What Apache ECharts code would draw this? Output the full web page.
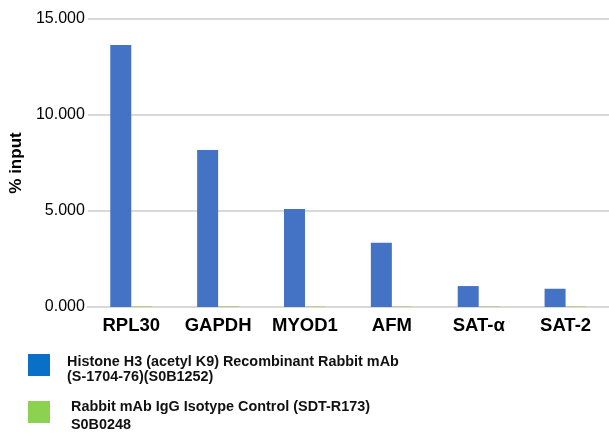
<!DOCTYPE html>
<html>
<head>
<meta charset="utf-8">
<script src="https://cdn.jsdelivr.net/npm/echarts@6/dist/echarts.min.js"></script>
<style>
  html, body { margin: 0; padding: 0; background: #fff; }
  #chart { width: 609px; height: 446px; }
</style>
</head>
<body>
<div id="chart"></div>
<script>
var categories = ['RPL30', 'GAPDH', 'MYOD1', 'AFM', 'SAT-α', 'SAT-2'];
var histoneValues = [13.65, 8.18, 5.10, 3.35, 1.09, 0.95];
var controlValues = [0.03, 0.03, 0.02, 0.02, 0.02, 0.02];
var yTicks = [0, 5, 10, 15];
var seriesNames = [
    'Histone H3 (acetyl K9) Recombinant Rabbit mAb\n(S-1704-76)(S0B1252)',
    ' Rabbit mAb IgG Isotype Control (SDT-R173)\n S0B0248'
];

// legend text; an empty spacer line on top pushes the text below the square's centre
function legendText(lineHeight, spacer) {
    return {
        fontFamily: 'Liberation Sans',
        fontWeight: 'bold',
        fontSize: 14.4,
        color: '#111',
        lineHeight: lineHeight,
        padding: [0, 0, 0, 12],
        rich: {
            s: { fontSize: 1, height: spacer, lineHeight: spacer }
        }
    };
}
function legendFormatter(name) {
    return '{s| }\n' + name;
}

var chart = echarts.init(document.getElementById('chart'));
chart.setOption({
    animation: false,
    grid: {
        left: 84,
        right: -3,
        top: 19,
        height: 288
    },
    legend: [{
        orient: 'vertical',
        left: 28,
        top: 345,
        padding: 0,
        itemWidth: 22,
        itemHeight: 22,
        icon: 'rect',
        formatter: legendFormatter,
        textStyle: legendText(15, 10),
        data: [{ name: seriesNames[0], itemStyle: { color: '#0a6fc6' } }]
    }, {
        orient: 'vertical',
        left: 28,
        top: 390,
        padding: 0,
        itemWidth: 22,
        itemHeight: 22,
        icon: 'rect',
        formatter: legendFormatter,
        textStyle: legendText(18, 8),
        data: [{ name: seriesNames[1], itemStyle: { color: '#8cd150' } }]
    }],
    xAxis: {
        type: 'category',
        data: categories,
        axisTick: { show: false },
        axisLine: { lineStyle: { color: '#d9d9d9', width: 2 } },
        axisLabel: {
            interval: 0,
            fontFamily: 'Liberation Sans',
            fontWeight: 'bold',
            fontSize: 18.5,
            color: '#000',
            margin: 9
        }
    },
    yAxis: {
        type: 'value',
        min: 0,
        max: yTicks[yTicks.length - 1],
        interval: 5,
        name: '% input',
        nameLocation: 'middle',
        nameGap: 60,
        nameTextStyle: {
            fontFamily: 'Liberation Sans',
            fontWeight: 'bold',
            fontSize: 17,
            color: '#000'
        },
        axisLine: { show: false },
        axisTick: { show: false },
        splitLine: { lineStyle: { color: '#d9d9d9', width: 2 } },
        axisLabel: {
            fontFamily: 'Liberation Sans',
            fontSize: 16,
            color: '#000',
            margin: 3,
            formatter: function (v) { return v.toFixed(3); }
        }
    },
    series: [{
        name: seriesNames[0],
        type: 'bar',
        data: histoneValues,
        barWidth: 21,
        barGap: '0%',
        itemStyle: { color: '#4472c4' }
    }, {
        name: seriesNames[1],
        type: 'bar',
        data: controlValues,
        barWidth: 21,
        itemStyle: { color: '#a5c24a' }
    }]
});
</script>
</body>
</html>
